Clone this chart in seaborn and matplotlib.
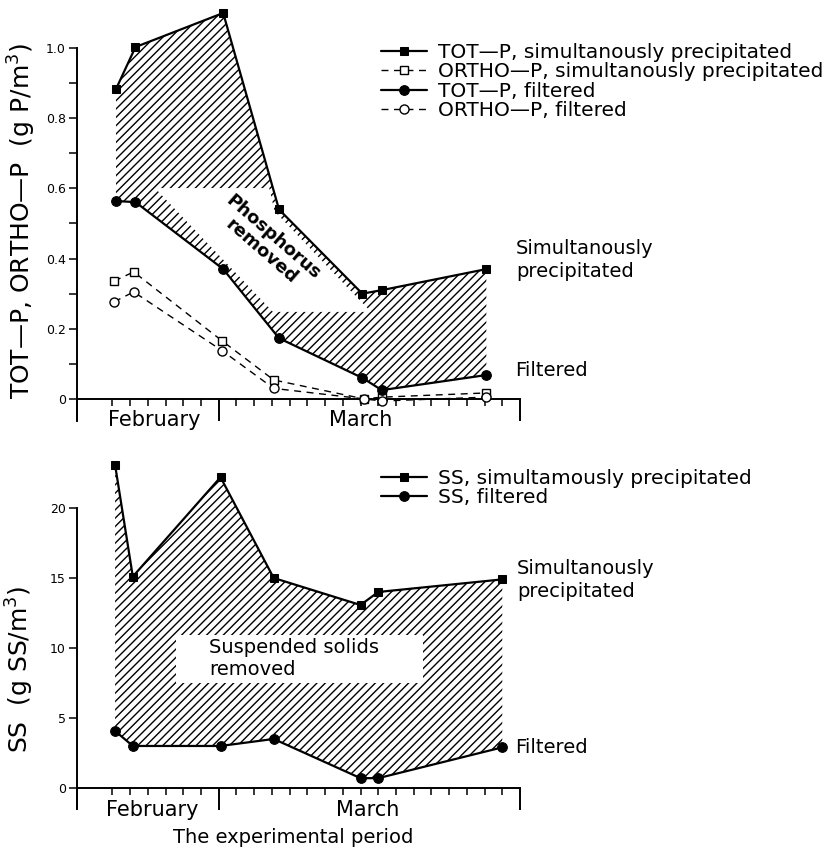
import matplotlib
matplotlib.use("Agg")
import matplotlib.pyplot as plt
import seaborn as sns
import pandas as pd
from matplotlib.patches import Polygon, Rectangle

# ---------------- data ----------------
days_top = [2.2, 3.3, 8.25, 11.4, 16.1, 17.2, 23.1]
totp_sim = [0.883, 1.003, 1.10, 0.54, 0.30, 0.31, 0.37]
totp_filt = [0.564, 0.561, 0.37, 0.173, 0.06, 0.025, 0.068]
days_ortho = [2.1, 3.2, 8.2, 11.1, 16.2, 17.2, 23.1]
ortho_sim = [0.336, 0.362, 0.165, 0.054, 0.0, 0.005, 0.017]
ortho_filt = [0.277, 0.305, 0.137, 0.03, 0.0, -0.006, 0.005]

days_bot = [2.15, 3.15, 8.1, 11.1, 16.0, 17.0, 24.0]
ss_sim = [23.07, 15.1, 22.2, 15.0, 13.07, 14.0, 14.9]
ss_filt = [4.07, 3.0, 3.0, 3.5, 0.7, 0.7, 2.9]

top_yticks = [0, 0.2, 0.4, 0.6, 0.8, 1.0]
top_yticklabels = ["0", "0.2", "0.4", "0.6", "0.8", "1.0"]
bot_yticks = [0, 5, 10, 15, 20]
bot_yticklabels = ["0", "5", "10", "15", "20"]
month_labels = ["February", "March"]

# ---------------- style ----------------
sns.set_theme(style="white")
plt.rcParams["font.family"] = ["DejaVu Sans"]
plt.rcParams["mathtext.default"] = "regular"
plt.rcParams["hatch.linewidth"] = 1.0
plt.rcParams["hatch.color"] = "black"
for k in ["text.color", "axes.labelcolor", "xtick.color", "ytick.color"]:
    plt.rcParams[k] = "black"

W, H = 833, 852
fig = plt.figure(figsize=(W / 100, H / 100), dpi=100)

def px_axes(x0, y0, x1, y1):
    return fig.add_axes([x0 / W, 1 - y1 / H, (x1 - x0) / W, (y1 - y0) / H])

ax1 = px_axes(77, 6, 520, 421)
ax2 = px_axes(77, 452, 520, 807)

def style_axis(ax, ylo, yhi, ytop_spine, yticks, yticklabels, minor_y=None):
    ax.set_xlim(0, 25)
    ax.set_ylim(ylo, yhi)
    for s in ["top", "right"]:
        ax.spines[s].set_visible(False)
    ax.spines["left"].set_bounds(ylo, ytop_spine)
    ax.spines["bottom"].set_position(("data", 0))
    ax.spines["bottom"].set_bounds(0, 25)
    for s in ["left", "bottom"]:
        ax.spines[s].set_color("black")
        ax.spines[s].set_linewidth(1.4)
    ax.set_xticks([0, 8, 25])
    ax.set_xticklabels([])
    ax.set_xticks([t for t in range(2, 25) if t != 8], minor=True)
    ax.tick_params(axis="x", which="major", direction="out", length=16, width=1.4,
                   color="black", bottom=True)
    ax.tick_params(axis="x", which="minor", direction="out", length=5, width=1.1,
                   color="black", bottom=True)
    ax.set_yticks(yticks)
    ax.set_yticklabels(yticklabels)
    if minor_y is not None:
        ax.set_yticks(minor_y, minor=True)
    ax.tick_params(axis="y", which="both", direction="out", length=6, width=1.1,
                   color="black", left=True, labelsize=9, pad=2)
    ax.set_xlabel("")
    ax.set_ylabel("")
    ax.patch.set_alpha(0)

leg_kw = dict(loc="upper left", bbox_transform=fig.transFigure, frameon=False,
              fontsize=14.5, handlelength=2.3, handletextpad=0.55, borderpad=0,
              borderaxespad=0, labelspacing=0.02)

# ---------------- top panel ----------------
style_axis(ax1, -0.063, 1.12, 1.0, top_yticks, top_yticklabels,
           minor_y=[0.1, 0.3, 0.5, 0.7, 0.9])

poly_x = days_top + days_top[::-1]
poly_y = totp_sim + totp_filt[::-1]
ax1.fill(poly_x, poly_y, facecolor="none", edgecolor="black", hatch="////",
         linewidth=0, zorder=1)
# white arrow with the "Phosphorus removed" label
arrow = Polygon([(4.40, 0.601), (10.85, 0.601), (11.15, 0.535), (15.5, 0.305),
                 (16.6, 0.248), (11.06, 0.248)], closed=True, facecolor="white",
                edgecolor="none", zorder=2)
ax1.add_patch(arrow)
ax1.text(10.75, 0.44, "Phosphorus\nremoved", rotation=-41, rotation_mode="anchor",
         ha="center", va="center", fontsize=13, fontweight="bold", zorder=3,
         linespacing=1.05)

sns.lineplot(x=days_ortho, y=ortho_sim, ax=ax1, color="black", marker="s",
             markersize=6, markerfacecolor="white", markeredgecolor="black",
             markeredgewidth=1.0, linewidth=1.0, linestyle=(0, (5, 4)),
             label="ORTHO—P, simultanously precipitated", zorder=3)
sns.lineplot(x=days_ortho, y=ortho_filt, ax=ax1, color="black", marker="o",
             markersize=6.5, markerfacecolor="white", markeredgecolor="black",
             markeredgewidth=1.0, linewidth=1.0, linestyle=(0, (5, 4)),
             label="ORTHO—P, filtered", zorder=3)
sns.lineplot(x=days_top, y=totp_sim, ax=ax1, color="black", marker="s",
             markersize=6, markeredgecolor="black", linewidth=1.6,
             label="TOT—P, simultanously precipitated", zorder=4)
sns.lineplot(x=days_top, y=totp_filt, ax=ax1, color="black", marker="o",
             markersize=7, markeredgecolor="black", linewidth=1.6,
             label="TOT—P, filtered", zorder=4)

h, l = ax1.get_legend_handles_labels()
order = [2, 0, 3, 1]
ax1.legend([h[i] for i in order], [l[i] for i in order],
           bbox_to_anchor=(381 / W, 1 - 43 / H), **leg_kw)

ax1.text(24.78, 0.395, "Simultanously\nprecipitated", ha="left", va="center",
         fontsize=14, linespacing=1.25)
ax1.text(24.72, 0.08, "Filtered", ha="left", va="center", fontsize=14)
ax1.text(4.35, -0.06, month_labels[0], ha="center", va="center", fontsize=15)
ax1.text(16.0, -0.06, month_labels[1], ha="center", va="center", fontsize=15)

fig.text(22 / W, 1 - 221 / H, "TOT—P, ORTHO—P  (g P/m$^3$)", rotation=90,
         ha="center", va="center", fontsize=18)

# ---------------- bottom panel ----------------
style_axis(ax2, -1.36, 24.0, 20, bot_yticks, bot_yticklabels)

poly_x2 = days_bot + days_bot[::-1]
poly_y2 = ss_sim + ss_filt[::-1]
ax2.fill(poly_x2, poly_y2, facecolor="none", edgecolor="black", hatch="////",
         linewidth=0, zorder=1)
ax2.add_patch(Rectangle((5.6, 7.5), 13.9, 3.4, facecolor="white",
                        edgecolor="none", zorder=2))
ax2.text(7.45, 9.25, "Suspended solids\nremoved", ha="left", va="center",
         fontsize=14, linespacing=1.2, zorder=3)

sns.lineplot(x=days_bot, y=ss_sim, ax=ax2, color="black", marker="s",
             markersize=6, markeredgecolor="black", linewidth=1.6,
             label="SS, simultamously precipitated", zorder=4)
sns.lineplot(x=days_bot, y=ss_filt, ax=ax2, color="black", marker="o",
             markersize=7, markeredgecolor="black", linewidth=1.6,
             label="SS, filtered", zorder=4)
ax2.legend(bbox_to_anchor=(381 / W, 1 - 469 / H), **leg_kw)

ax2.text(24.83, 14.86, "Simultanously\nprecipitated", ha="left", va="center",
         fontsize=14, linespacing=1.25)
ax2.text(24.72, 2.86, "Filtered", ha="left", va="center", fontsize=14)
ax2.text(4.23, -1.57, month_labels[0], ha="center", va="center", fontsize=15)
ax2.text(16.4, -1.57, month_labels[1], ha="center", va="center", fontsize=15)
ax2.text(12.2, -3.57, "The experimental period", ha="center", va="center",
         fontsize=14)

fig.text(20 / W, 1 - 669 / H, "SS  (g SS/m$^3$)", rotation=90,
         ha="center", va="center", fontsize=18)

fig.savefig("out.png", dpi=100, facecolor="white")
